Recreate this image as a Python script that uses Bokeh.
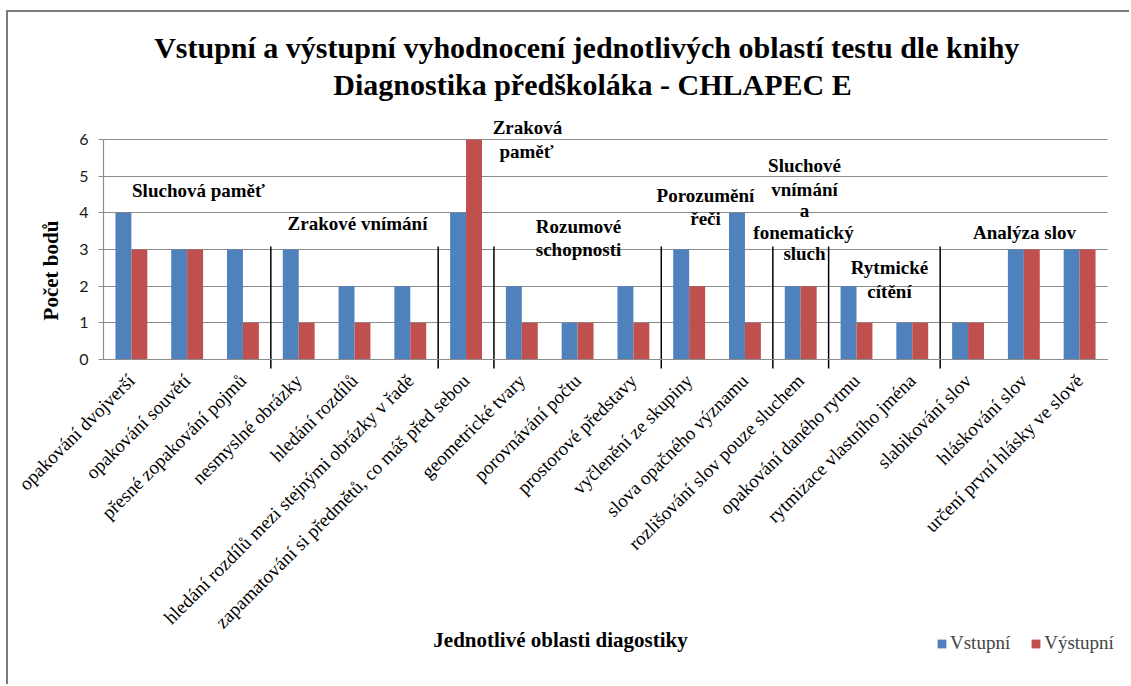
import math
import numpy as np
from bokeh.plotting import figure
from bokeh.models import (Range1d, Legend, LegendItem, FixedTicker, ColumnDataSource, Grid)
from bokeh.core.properties import value
from bokeh.embed import file_html
from bokeh.resources import INLINE

categories = [
    "opakování dvojverší", "opakování souvětí", "přesné zopakování pojmů",
    "nesmyslné obrázky", "hledání rozdílů", "hledání rozdílů mezi stejnými obrázky v řadě",
    "zapamatování si předmětů, co máš před sebou", "geometrické tvary",
    "porovnávání počtu", "prostorové představy", "vyčlenění ze skupiny",
    "slova opačného významu", "rozlišování slov pouze sluchem",
    "opakování daného rytmu", "rytmizace vlastního jména", "slabikování slov",
    "hláskování slov", "určení první hlásky ve slově",
]
vstupni = [4, 3, 3, 3, 2, 2, 4, 2, 1, 2, 3, 4, 2, 2, 1, 1, 3, 3]
vystupni = [3, 3, 1, 1, 1, 1, 6, 1, 1, 1, 2, 1, 2, 1, 1, 1, 3, 3]
y_ticks = [0, 1, 2, 3, 4, 5, 6]
series_names = ["Vstupní", "Výstupní"]

group_sizes = [3, 3, 1, 3, 2, 1, 2, 3]
group_lines = [
    ["Sluchová paměť"],
    ["Zrakové vnímání"],
    ["Zraková", "paměť"],
    ["Rozumové", "schopnosti"],
    ["Porozumění", "řeči"],
    ["Sluchové", "vnímání", "a", "fonematický", "sluch"],
    ["Rytmické", "cítění"],
    ["Analýza slov"],
]
# page-pixel centres of each label line
group_px = [
    [(198, 190)],
    [(357, 223)],
    [(527, 127), (526, 151)],
    [(578, 226), (578, 249)],
    [(705, 195), (705, 218)],
    [(804, 165), (804, 189), (804, 210), (803, 232), (804, 253)],
    [(889, 267), (889, 291)],
    [(1024, 232)],
]

title_lines = ["Vstupní a výstupní vyhodnocení jednotlivých oblastí testu  dle knihy",
               "Diagnostika předškoláka - CHLAPEC E"]
x_title = "Jednotlivé oblasti diagostiky"
y_title = "Počet bodů"

BLUE = "#4F81BD"
RED = "#C0504D"
GRID_C = "#8C8C8C"
SERIF = "Liberation Serif"

# canvas placement on the page and plot-area geometry (page pixels)
OX, OY = 8, 12
W, H = 1123, 674
FL, FR, FT, FB = 103, 1107, 139, 359
N = len(categories)
UX = (FR - FL) / N
UY = (FB - FT) / max(y_ticks)

def dx(px):
    return -0.5 + (px - FL) / UX

def dy(py):
    return (FB - py) / UY

p = figure(x_range=Range1d(dx(OX), dx(OX + W)), y_range=Range1d(dy(OY + H), dy(OY)),
           width=W, height=H, output_backend="svg", toolbar_location=None,
           min_border=0, min_border_left=0, min_border_right=0,
           min_border_top=0, min_border_bottom=0)
p.outline_line_color = None
p.styles = {"margin-left": "6px", "margin-top": "10px",
            "border-top": "2px solid #7a7a7a", "border-left": "2px solid #7a7a7a"}

xs = np.arange(N)
bw = 1.0 / 3.5
src = ColumnDataSource(dict(x1=xs - bw / 2, x2=xs + bw / 2, v1=vstupni, v2=vystupni))
r1 = p.vbar(x="x1", top="v1", width=bw, source=src, fill_color=BLUE, line_color=None)
r2 = p.vbar(x="x2", top="v2", width=bw, source=src, fill_color=RED, line_color=None)

# axes drawn at fixed data locations inside the full-canvas frame
xa = p.xaxis[0]
xa.fixed_location = 0
xa.bounds = (-0.5, N - 0.5)
xa.ticker = FixedTicker(ticks=list(range(N)))
xa.major_label_overrides = {i: c for i, c in enumerate(categories)}
xa.axis_line_color = GRID_C
xa.axis_line_width = 1.2
xa.major_tick_line_color = None
xa.minor_tick_line_color = None
xa.major_label_orientation = math.pi / 4
xa.major_label_text_font = SERIF
xa.major_label_text_font_size = "19px"
xa.major_label_text_color = "#000000"
xa.major_label_standoff = 12

ya = p.yaxis[0]
ya.fixed_location = -0.5
ya.bounds = (0, max(y_ticks))
ya.ticker = FixedTicker(ticks=y_ticks)
ya.axis_line_color = GRID_C
ya.axis_line_width = 1.2
ya.major_tick_line_color = GRID_C
ya.major_tick_out = 5
ya.major_tick_in = 0
ya.minor_tick_line_color = None
ya.major_label_text_font = "Lato"
ya.major_label_text_font_size = "16px"
ya.major_label_text_color = "#1a1a1a"
ya.major_label_standoff = 10

p.xgrid.grid_line_color = None
if "cross_bounds" in Grid.properties():
    p.ygrid.cross_bounds = (-0.5, N - 0.5)
    p.ygrid.grid_line_color = GRID_C
    p.ygrid.grid_line_width = 1.2
else:
    p.ygrid.grid_line_color = None
    p.segment(x0=[-0.5] * len(y_ticks), x1=[N - 0.5] * len(y_ticks), y0=y_ticks, y1=y_ticks,
              line_color=GRID_C, line_width=1.2, level="underlay")

# group separators
bnd = np.cumsum(group_sizes)[:-1] - 0.5
p.segment(x0=bnd, x1=bnd, y0=[dy(368)] * len(bnd), y1=[dy(246)] * len(bnd),
          line_color="#000000", line_width=1.5)

# group labels as text glyphs (serif bold)
gx, gy, gt = [], [], []
for lines, pos in zip(group_lines, group_px):
    for t, (px, py) in zip(lines, pos):
        gx.append(dx(px))
        gy.append(dy(py))
        gt.append(t)
p.text(x=gx, y=gy, text=gt, text_font=value(SERIF), text_font_style="bold",
       text_font_size="19px", text_align="center", text_baseline="middle",
       text_color="#000000")

# chart title
p.text(x=[dx(590), dx(592)], y=[dy(47), dy(84)], text=title_lines, text_font=value(SERIF),
       text_font_style="bold", text_font_size="30px", text_align="center",
       text_baseline="middle", text_color="#000000")

# axis titles
p.text(x=[dx(560)], y=[dy(639)], text=[x_title], text_font=value(SERIF),
       text_font_style="bold", text_font_size="21px", text_align="center",
       text_baseline="middle", text_color="#000000")
p.text(x=[dx(50)], y=[dy(270)], text=[y_title], angle=math.pi / 2, text_font=value(SERIF),
       text_font_style="bold", text_font_size="21px", text_align="center",
       text_baseline="middle", text_color="#000000")

legend_kw = dict(items=[LegendItem(label=series_names[0], renderers=[r1]),
                        LegendItem(label=series_names[1], renderers=[r2])],
                 orientation="horizontal", location=(936 - OX, (OY + H) - 654),
                 padding=0, margin=0, spacing=20, glyph_width=11, glyph_height=11,
                 label_standoff=3, label_text_font_size="19px", label_height=20,
                 border_line_color=None, background_fill_alpha=0)
try:
    legend = Legend(label_text_font=value(SERIF), **legend_kw)
except Exception:
    legend = Legend(label_text_font=SERIF, **legend_kw)
p.add_layout(legend, "center")

open("out.html", "w").write(file_html(p, INLINE))
